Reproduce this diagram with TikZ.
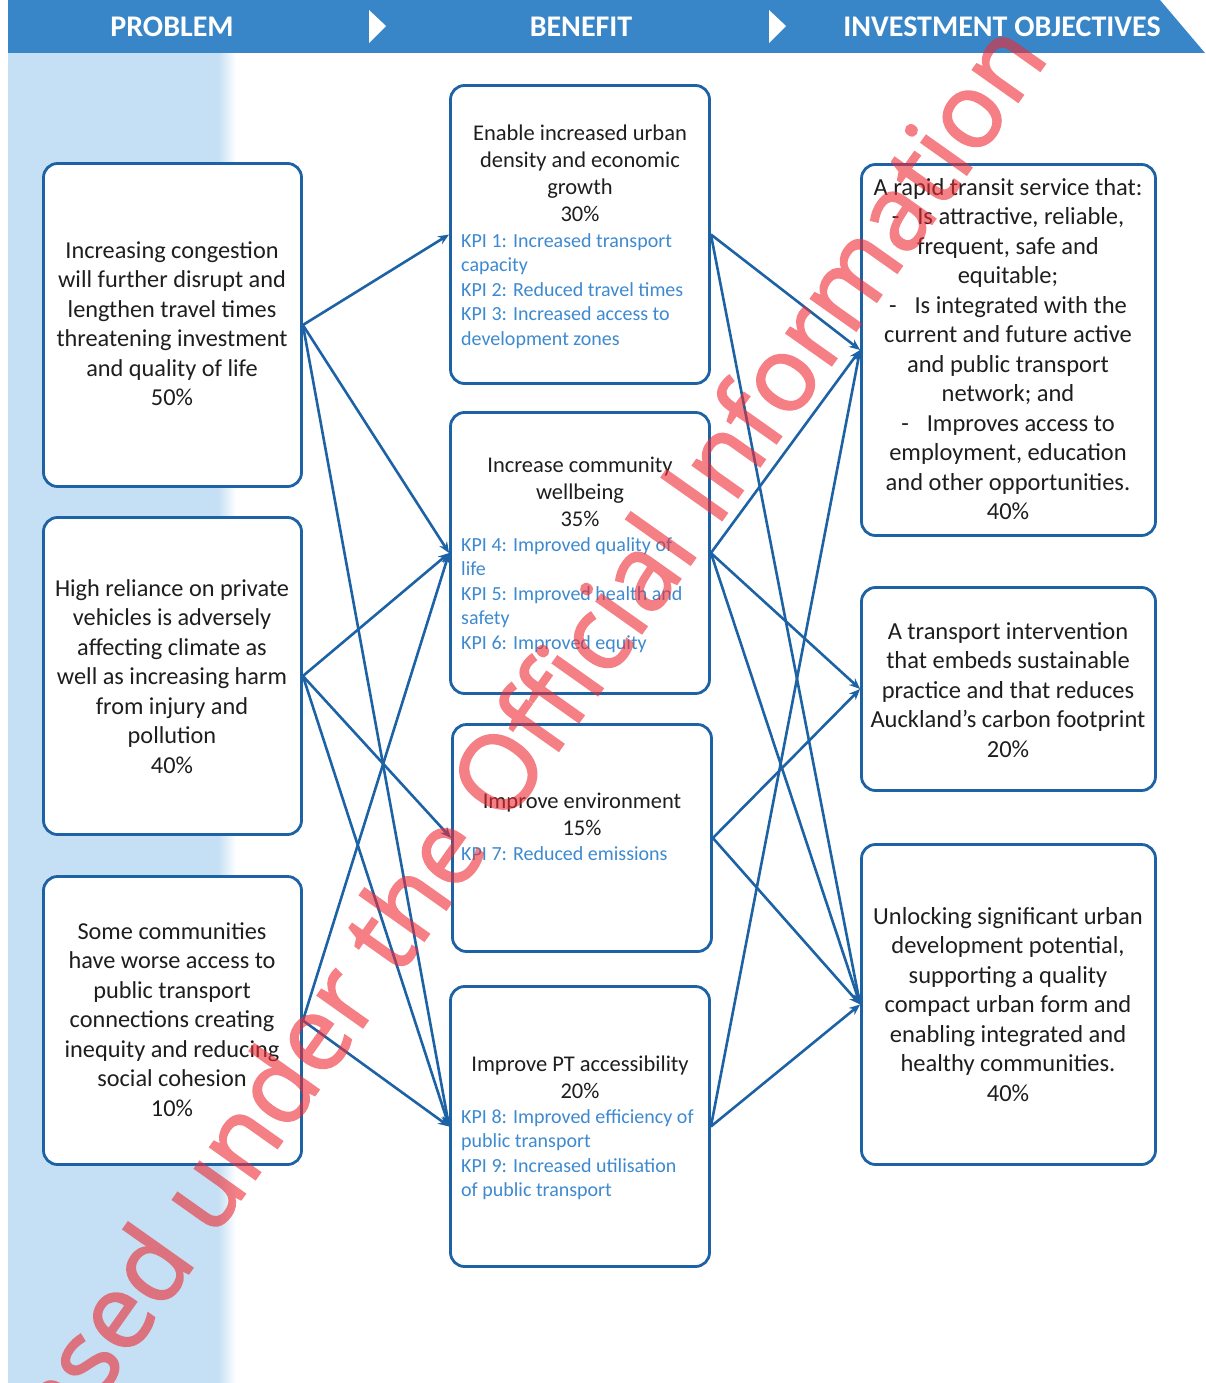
\documentclass[tikz,border=0pt]{standalone}
\usepackage{fontspec}
\setmainfont{Carlito}
\newfontfamily\wmfont[FakeBold=1.8]{Open Sans}
\usetikzlibrary{arrows.meta}

\definecolor{bandblue}{RGB}{56,134,200}
\definecolor{stripblue}{RGB}{197,223,244}
\definecolor{boxblue}{RGB}{28,98,165}
\definecolor{kpiblue}{RGB}{62,138,208}
\definecolor{inktext}{RGB}{30,30,30}
\definecolor{wmred}{RGB}{238,42,50}

\begin{document}
\begin{tikzpicture}[x=1pt,y=-1pt,
  box/.style={draw=boxblue, line width=2.8pt, rounded corners=14pt, fill=white, inner sep=0pt},
  lbox/.style={box, minimum width=258pt},
  mbox/.style={box, minimum width=259pt},
  rbox/.style={box, minimum width=294pt},
  conn/.style={draw=boxblue, line width=2.6pt, -{Stealth[length=11pt,width=9pt]}},
  headtext/.style={font=\fontsize{30}{36}\selectfont\bfseries, text=white, inner sep=0pt},
  ptext/.style={font=\fontsize{24.3}{29.5}\selectfont, text=inktext, align=center, anchor=north, inner sep=0pt},
  ttext/.style={font=\fontsize{22.5}{27}\selectfont, text=inktext, align=center, anchor=north, inner sep=0pt},
  rtext/.style={font=\fontsize{24.5}{29.5}\selectfont, text=inktext, align=center, anchor=north, inner sep=0pt},
  ktext/.style={font=\fontsize{20}{24.5}\selectfont, text=kpiblue, align=left, anchor=north west, inner sep=0pt},
  wm/.style={font=\wmfont\fontsize{104}{104}\selectfont, text=wmred, inner sep=0pt}
]
\useasboundingbox (0,0) rectangle (1205,1383);

% pale column behind the problems
\fill[stripblue] (8,52) rectangle (218,1383);
\shade[left color=stripblue, right color=white] (218,52) rectangle (236,1383);

% header band with chevrons
\fill[bandblue] (8,0) -- (1160,0) -- (1205,53) -- (8,53) -- cycle;
\fill[white] (369,10) -- (386,26) -- (369,43) -- cycle;
\fill[white] (769,10) -- (786,26) -- (769,43) -- cycle;
\node[headtext] (hprob) at (172,27) {PROBLEM};
\node[headtext] (hben) at (581,27) {BENEFIT};
\node[headtext] (hinv) at (1002,27) {INVESTMENT OBJECTIVES};

% boxes
\node[lbox, minimum height=323pt] (l1) at (172.5,325) {};
\node[lbox, minimum height=317pt] (l2) at (172.5,676) {};
\node[lbox, minimum height=288pt] (l3) at (172.5,1020.5) {};
\node[mbox, minimum height=298pt] (m1) at (580,234.5) {};
\node[mbox, minimum height=281pt] (m2) at (580,553) {};
\node[mbox, minimum height=227pt] (m3) at (582,838) {};
\node[mbox, minimum height=280pt] (m4) at (580,1126.5) {};
\node[rbox, minimum height=371pt] (r1) at (1008.5,350) {};
\node[rbox, minimum height=203pt] (r2) at (1008.5,689) {};
\node[rbox, minimum height=320pt] (r3) at (1008.5,1004.5) {};

% problem -> benefit
\draw[conn] (l1.east) -- (m1.west);
\draw[conn] (l1.east) -- (m2.west);
\draw[conn] (l1.east) -- (m4.west);
\draw[conn] (l2.east) -- (m2.west);
\draw[conn] (l2.east) -- (m3.west);
\draw[conn] (l2.east) -- (m4.west);
\draw[conn] (l3.east) -- (m2.west);
\draw[conn] (l3.east) -- (m4.west);

% benefit -> investment objective
\draw[conn] (m1.east) -- (r1.west);
\draw[conn] (m1.east) -- (r3.west);
\draw[conn] (m2.east) -- (r1.west);
\draw[conn] (m2.east) -- (r2.west);
\draw[conn] (m2.east) -- (r3.west);
\draw[conn] (m3.east) -- (r2.west);
\draw[conn] (m3.east) -- (r3.west);
\draw[conn] (m4.east) -- (r1.west);
\draw[conn] (m4.east) -- (r3.west);

% problem texts
\node[ptext] (l1t) at (172,241) {Increasing congestion\\will further disrupt and\\lengthen travel times\\threatening investment\\and quality of life\\50\%};
\node[ptext] (l2t) at (172,579) {High reliance on private\\vehicles is adversely\\affecting climate as\\well as increasing harm\\from injury and\\pollution\\40\%};
\node[ptext] (l3t) at (172,922) {Some communities\\have worse access to\\public transport\\connections creating\\inequity and reducing\\social cohesion\\10\%};

% benefit texts
\node[ttext] (m1t) at (580,125) {Enable increased urban\\density and economic\\growth\\30\%};
\node[ktext] (m1k) at (461,233) {KPI 1: Increased transport\\capacity\\KPI 2: Reduced travel times\\KPI 3: Increased access to\\development zones};
\node[ttext] (m2t) at (580,457) {Increase community\\wellbeing\\35\%};
\node[ktext] (m2k) at (461,537) {KPI 4: Improved quality of\\life\\KPI 5: Improved health and\\safety\\KPI 6: Improved equity};
\node[ttext] (m3t) at (582,793) {Improve environment\\15\%};
\node[ktext] (m3k) at (461,846) {KPI 7: Reduced emissions};
\node[ttext] (m4t) at (580,1056) {Improve PT accessibility\\20\%};
\node[ktext] (m4k) at (461,1109) {KPI 8: Improved efficiency of\\public transport\\KPI 9: Increased utilisation\\of public transport};

% investment objective texts
\node[rtext] (r1t) at (1008,178) {A rapid transit service that:\\-\hspace{18pt}Is attractive, reliable,\\frequent, safe and\\equitable;\\-\hspace{18pt}Is integrated with the\\current and future active\\and public transport\\network; and\\-\hspace{18pt}Improves access to\\employment, education\\and other opportunities.\\40\%};
\node[rtext] (r2t) at (1008,622) {A transport intervention\\that embeds sustainable\\practice and that reduces\\Auckland’s carbon footprint\\20\%};
\node[rtext] (r3t) at (1008,907) {Unlocking significant urban\\development potential,\\supporting a quality\\compact urban form and\\enabling integrated and\\healthy communities.\\40\%};

% diagonal stamp across the sheet
\begin{scope}[transparency group, opacity=0.6]
\clip (0,0) rectangle (1205,1383);
\node[wm, anchor=base east, rotate=54.7] (stamp) at (1050,57) {Released under the Official Information};
\end{scope}
\end{tikzpicture}
\end{document}
